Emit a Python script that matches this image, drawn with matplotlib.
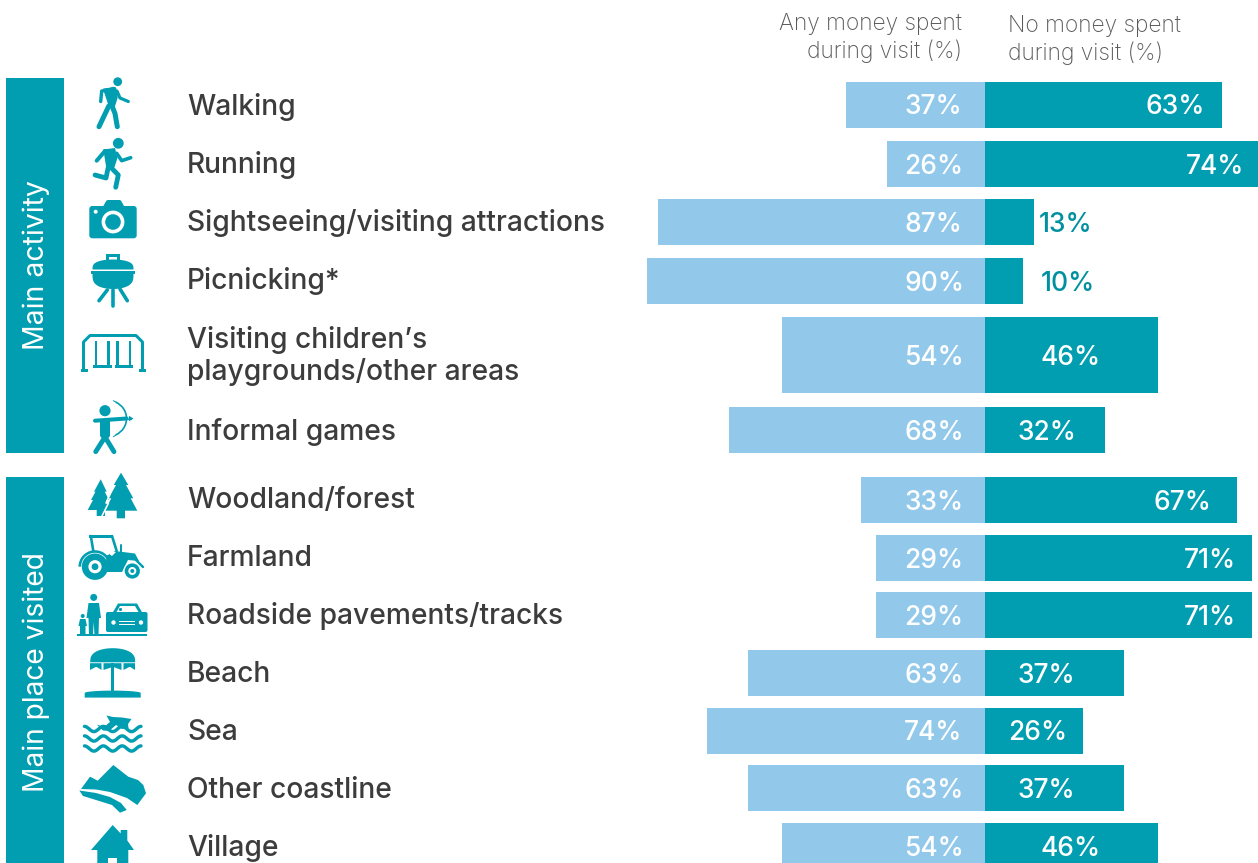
import matplotlib
matplotlib.use("Agg")
import matplotlib.pyplot as plt
from matplotlib.patches import Circle, Polygon, Rectangle, FancyBboxPatch, Wedge, Arc
import numpy as np

TEAL = "#009EB0"
LIGHT_BLUE = "#92C9EB"
LABEL_GREY = "#3C3C3C"
HEAD_GREY = "#5A5A5A"
WHITE = "#FFFFFF"

W, H = 1258, 863
ZERO_PX = 985        # pixel column of the 0% line
PX_PER_PCT = 3.76

activities = [
    "Walking",
    "Running",
    "Sightseeing/visiting attractions",
    "Picnicking*",
    "Visiting children’s\nplaygrounds/other areas",
    "Informal games",
    "Woodland/forest",
    "Farmland",
    "Roadside pavements/tracks",
    "Beach",
    "Sea",
    "Other coastline",
    "Village",
]
any_money = [37, 26, 87, 90, 54, 68, 33, 29, 29, 63, 74, 63, 54]
no_money = [63, 74, 13, 10, 46, 32, 67, 71, 71, 37, 26, 37, 46]

# row layout in pixels
row_y = [105, 164, 222, 281, 355, 430, 500, 558, 615, 673, 730.5, 788, 846]
row_h = [46, 46, 46, 46, 76, 46, 46, 46, 46, 46, 46, 46, 46]
name_y = [107, 165, 223, 281, 356, 432, 500, 558, 616, 674, 732, 790, 848]
no_label_x = [1175, 1215, 1066, 1067.5, 1071, 1047, 1182, 1210, 1210, 1046, 1038, 1046, 1071]

plt.rcParams["font.family"] = ["Inter", "DejaVu Sans"]

fig = plt.figure(figsize=(W / 100, H / 100), dpi=100)

# bars live in percent units, y runs in pixel rows
ax = fig.add_axes([0, 0, 1, 1])
ax.set_xlim(-ZERO_PX / PX_PER_PCT, (W - ZERO_PX) / PX_PER_PCT)
ax.set_ylim(H, 0)
ax.axis("off")
ax.barh(row_y, [-v for v in any_money], height=row_h, color=LIGHT_BLUE, linewidth=0)
ax.barh(row_y, no_money, height=row_h, color=TEAL, linewidth=0)

# everything else is placed directly in pixels
px = fig.add_axes([0, 0, 1, 1])
px.set_xlim(0, W)
px.set_ylim(H, 0)
px.axis("off")
px.patch.set_alpha(0)


def stroke(pts, w, color=TEAL):
    xs, ys = zip(*pts)
    px.plot(xs, ys, color=color, lw=w * 0.72, solid_capstyle="round", solid_joinstyle="round")


def poly(pts, color=TEAL):
    px.add_patch(Polygon(pts, closed=True, facecolor=color, edgecolor="none"))


def disc(x, y, r, color=TEAL):
    px.add_patch(Circle((x, y), r, facecolor=color, edgecolor="none"))


def rect(x0, y0, x1, y1, color=TEAL):
    px.add_patch(Rectangle((x0, y0), x1 - x0, y1 - y0, facecolor=color, edgecolor="none"))


def dome(cx, rx, y_flat, y_tip, color=TEAL, power=1.0):
    t = np.linspace(0, np.pi, 40)
    poly(list(zip(cx + rx * np.cos(t), y_flat + (y_tip - y_flat) * np.sin(t) ** power)), color)


def wavy(x0, x1, y, n=3, amp=2.6, w=3.4):
    t = np.linspace(0, 1, 80)
    stroke(list(zip(x0 + (x1 - x0) * t, y - amp * np.cos(t * n * 2 * np.pi))), w)


def icon_walker():
    disc(117.7, 81.7, 4.4)
    stroke([(104, 90.5), (114.5, 89)], 4)
    stroke([(113, 90), (114.5, 97), (112, 105)], 6.5)
    poly([(103, 89), (115, 87.5), (116, 100), (112, 108), (108, 104)])
    stroke([(101.7, 91), (100.7, 101.5)], 3.4)
    stroke([(117, 91), (120, 98), (128.3, 101.5)], 3.2)
    stroke([(108.8, 106), (99, 126.7)], 5)
    stroke([(112, 106), (115, 113.5), (117.3, 126.7)], 5)


def icon_runner():
    disc(118.3, 143.3, 5.4)
    poly([(103.3, 149.5), (115, 148), (117.5, 158), (113.5, 170), (106, 166)])
    stroke([(105, 151), (96.7, 160.7)], 4)
    stroke([(116.7, 153.3), (121.7, 160.7), (130.7, 157.7)], 3.6)
    stroke([(108.3, 167), (106, 178), (95, 175)], 4.8)
    stroke([(110.5, 167), (118.3, 175), (115.7, 187.3)], 4.8)


def icon_camera():
    px.add_patch(FancyBboxPatch((92.3, 209), 41.4, 26.3, boxstyle="round,pad=3,rounding_size=3",
                                facecolor=TEAL, edgecolor="none"))
    poly([(103.3, 206), (106.5, 200.5), (108, 200), (119.5, 200), (121, 200.5), (124, 206)])
    disc(113, 222, 11.4, WHITE)
    disc(113, 222, 7.8, TEAL)
    disc(95.7, 211.7, 2, WHITE)


def icon_grill():
    rect(106, 254, 120, 261)
    rect(109, 257, 117, 260.5, WHITE)
    dome(113, 20.5, 269.5, 259.5, power=0.6)
    rect(91.3, 271, 135, 274)
    dome(113, 20.5, 274, 289, power=0.6)
    stroke([(107.3, 290), (99, 300.7)], 3.6)
    stroke([(113, 290), (113, 306)], 3.6)
    stroke([(120, 289), (127.3, 300.7)], 3.6)


def icon_playground():
    stroke([(83.5, 370), (83.5, 342), (90, 335.5), (136, 335.5), (142.5, 342), (142.5, 370)], 3)
    rect(81, 369, 87.5, 372.5)
    rect(138.5, 369, 145.5, 372.5)
    for x in (96, 108.3, 117.3, 130):
        rect(x - 1.2, 341, x + 1.2, 367)
    rect(93.3, 365.5, 111.7, 368.5)
    rect(115, 365.5, 133.3, 368.5)


def icon_archer():
    disc(105, 410.7, 5.6)
    poly([(100, 420), (110, 420), (110, 436), (105, 442), (100, 436)])
    stroke([(95, 420.7), (126.7, 418.5)], 4)
    stroke([(105, 437), (95.7, 451.7)], 4.8)
    stroke([(105, 437), (114, 451.7)], 4.8)
    px.add_patch(Arc((108, 418.5), 37, 36, theta1=-65, theta2=65, edgecolor=TEAL, lw=1.2))
    stroke([(116, 402), (113.3, 400.7)], 1)
    stroke([(116, 435), (113.3, 436.7)], 1)
    stroke([(126, 418.5), (131, 418.5)], 1.2)
    poly([(129, 415.8), (133.5, 418.5), (129, 421.2)])


def icon_trees():
    poly([(100.7, 479.3), (106.7, 491.7), (104.7, 491.7), (109, 500), (106, 500), (109, 510),
          (105, 510), (105, 516), (96.7, 516), (96.7, 510), (87.7, 510), (93, 500), (91, 500),
          (95.5, 491.7), (94, 491.7)])
    stroke([(110, 494), (106, 503), (108.5, 503), (101.5, 517)], 1.6, WHITE)
    poly([(121, 472.7), (128.3, 485), (126, 485), (133.3, 498.3), (130.7, 498.3), (137.3, 510.7),
          (125, 510.7), (125, 518.3), (116.7, 518.3), (116.7, 510.7), (104.7, 510.7),
          (111.3, 498.3), (108.7, 498.3), (116, 485), (113.7, 485)])


def icon_tractor():
    # cab frame
    rect(89.3, 534.5, 113.3, 537.5)
    stroke([(90.8, 536), (93.3, 551)], 2.6)
    stroke([(112, 536), (116.7, 551)], 2.6)
    stroke([(120.7, 545), (120.7, 552)], 2)
    # bonnet and rear mudguard
    poly([(106, 556), (115, 551), (135, 553.5), (139, 561), (128, 560), (122, 572), (107, 572)])
    stroke([(134, 558), (143, 567)], 2.4)
    px.add_patch(Wedge((95, 566.7), 16.5, 180, 340, width=2.6, facecolor=TEAL, edgecolor="none"))
    poly([(106, 550), (116, 552), (112, 556), (108, 553)], WHITE)
    # wheels
    disc(95, 566.7, 13.2)
    disc(95, 566.7, 6.6, WHITE)
    disc(95, 566.7, 3.4)
    disc(132.3, 571, 8.8, WHITE)
    disc(132.3, 571, 7.6)
    disc(132.3, 571, 4, WHITE)
    disc(132.3, 571, 2)


def icon_roadside():
    # adult and child
    disc(93.7, 597.4, 3.5)
    poly([(88.5, 603), (99, 603), (101, 618), (99, 618), (98.5, 635), (94.5, 635), (93.7, 622),
          (93, 635), (89, 635), (88.5, 618), (86.5, 618)])
    disc(82.7, 616, 2)
    poly([(80, 619), (85.5, 619), (87, 626), (85.5, 626), (85.5, 635), (80, 635), (80, 626), (78.5, 626)])
    # car
    poly([(112.5, 613), (118, 603.5), (137, 603.5), (142.5, 613)])
    poly([(116.5, 612), (120, 606), (135, 606), (138.5, 612)], WHITE)
    disc(120.5, 609.5, 1.6)
    px.add_patch(FancyBboxPatch((108, 614), 37.5, 16, boxstyle="round,pad=2,rounding_size=2",
                                facecolor=TEAL, edgecolor="none"))
    disc(113.5, 622.5, 2.2, WHITE)
    disc(141, 622.5, 2.2, WHITE)
    rect(119, 621, 135, 622.2, WHITE)
    rect(119, 624, 135, 625.2, WHITE)
    rect(77.3, 634, 147.3, 636.2)
    rect(109, 632, 145, 634, WHITE)


def icon_beach():
    dome(112.7, 22.5, 662.3, 648.2, power=0.7)
    for x0, x1 in ((90, 101.5), (103.5, 121.5), (123.5, 135)):
        mid = (x0 + x1) / 2
        poly([(x0, 663.2), (x1, 663.2), (x1, 670), (mid + 1, 667), (mid, 667), (x0, 670)])
    rect(111.4, 663, 114, 692)
    t = np.linspace(0, np.pi, 30)
    poly(list(zip(112.7 + 28 * np.cos(t), 693 - 2.4 * np.sin(t))) + [(84.7, 697.6), (140.7, 697.6)])


def icon_sea():
    poly([(96.7, 724.5), (104, 727), (110, 722), (106.5, 715.5), (113, 717), (122, 717.5),
          (131.5, 719), (128, 724), (128.5, 728), (122, 729), (116, 725), (109, 731), (103, 730.5)])
    wavy(84.5, 141, 729)
    wavy(84.5, 141, 738.5)
    wavy(84.5, 141, 748.5)


def icon_coast():
    poly([(81, 789), (90, 776.7), (97.7, 780.7), (113.3, 765), (128.3, 776.7), (138, 780), (143.3, 785),
          (146, 793.3), (137.3, 805), (127, 798), (110, 792), (96, 789.5)])
    poly([(79.3, 790.5), (96, 793), (110, 797), (121, 803), (126.7, 810), (120, 812.7), (112, 805),
          (96, 800), (83, 796)])


def icon_house():
    poly([(112.7, 825), (120.7, 833.5), (120.7, 830), (127.3, 830), (127.3, 840.5), (134, 850),
          (128.3, 850), (128.3, 863), (97.3, 863), (97.3, 850), (91, 850)])
    rect(108.3, 857.7, 116.7, 863, WHITE)


for draw_icon in (icon_walker, icon_runner, icon_camera, icon_grill, icon_playground, icon_archer,
                  icon_trees, icon_tractor, icon_roadside, icon_beach, icon_sea, icon_coast, icon_house):
    draw_icon()

# group blocks on the left
rect(6, 78, 64, 453)
rect(6, 477, 64, 863)
px.text(36, 265.5, "Main activity", color=WHITE, fontsize=20.5, rotation=90, ha="center", va="center")
px.text(36, 672.5, "Main place visited", color=WHITE, fontsize=20.3, rotation=90, ha="center", va="center")

# column headings
px.text(962, 24, "Any money spent", color=HEAD_GREY, fontsize=16.4, weight="light", ha="right", va="center")
px.text(962, 51, "during visit (%)", color=HEAD_GREY, fontsize=16.4, weight="light", ha="right", va="center")
px.text(1008, 26, "No money spent", color=HEAD_GREY, fontsize=16.4, weight="light", ha="left", va="center")
px.text(1008, 53, "during visit (%)", color=HEAD_GREY, fontsize=16.4, weight="light", ha="left", va="center")

# row names
for name, y in zip(activities, name_y):
    px.text(187, y, name, color=LABEL_GREY, fontsize=20.3, weight="medium", ha="left", va="center",
            linespacing=1.2)

# percentage labels
for v, y in zip(any_money, row_y):
    px.text(904, y - 0.5, f"{v}%", color=WHITE, fontsize=19, weight="medium", ha="left", va="center_baseline")
for v, lx, y in zip(no_money, no_label_x, row_y):
    col = WHITE if v > 15 else "#00909F"
    px.text(lx, y - 0.5, f"{v}%", color=col, fontsize=19, weight="medium", ha="center", va="center_baseline")

fig.savefig("out.png", dpi=100)
